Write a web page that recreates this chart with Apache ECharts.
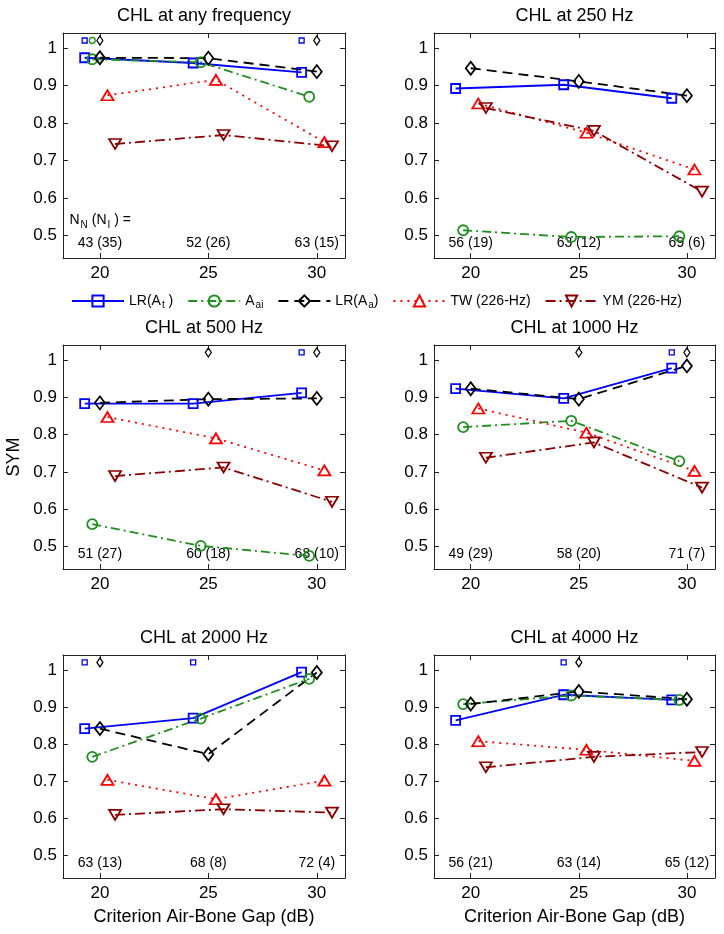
<!DOCTYPE html>
<html><head><meta charset="utf-8">
<script src="https://cdn.jsdelivr.net/npm/echarts@6/dist/echarts.min.js"></script>
<style>html,body{margin:0;padding:0;background:#fff}#c{width:724px;height:934px}</style>
</head><body><div id="c"></div>
<script>
// ---- data ----
const panelTitles = ['CHL at any frequency','CHL at 250 Hz','CHL at 500 Hz','CHL at 1000 Hz','CHL at 2000 Hz','CHL at 4000 Hz'];
const gaps = [20, 25, 30];
const yTicks = [0.5, 0.6, 0.7, 0.8, 0.9, 1];
const lrAt = [[0.974,0.960,0.935],[0.892,0.902,0.866],[0.883,0.883,0.912],[0.923,0.897,0.978],[0.842,0.870,0.994],[0.864,0.933,0.919]];
const aai  = [[0.970,0.962,0.870],[0.514,0.496,0.498],[0.560,0.502,0.475],[0.820,0.837,0.729],[0.766,0.869,0.976],[0.908,0.931,0.919]];
const lrAa = [[0.974,0.973,0.937],[0.946,0.911,0.873],[0.885,0.895,0.897],[0.923,0.895,0.984],[0.842,0.773,0.993],[0.908,0.942,0.921]];
const tw   = [[0.874,0.915,0.749],[0.852,0.774,0.676],[0.847,0.790,0.704],[0.870,0.805,0.703],[0.704,0.652,0.702],[0.808,0.785,0.755]];
const ym   = [[0.744,0.768,0.738],[0.840,0.779,0.617],[0.689,0.712,0.620],[0.738,0.779,0.658],[0.610,0.625,0.616],[0.738,0.766,0.779]];
// small markers drawn above the data (criterion values where they appear)
const flagAt  = [[20,30],[],[30],[30],[20,25],[25]];
const flagAai = [[20],[],[],[],[],[]];
const flagAa  = [[20,30],[],[25,30],[25,30],[20],[25]];
const FLAG_LEVEL = 1.02;
const nCounts = [['43 (35)','52 (26)','63 (15)'],['56 (19)','63 (12)','69 (6)'],['51 (27)','60 (18)','68 (10)'],['49 (29)','58 (20)','71 (7)'],['63 (13)','68 (8)','72 (4)'],['56 (21)','63 (14)','65 (12)']];

// ---- layout / style ----
const FONT = '"Liberation Sans", Arial, Helvetica, sans-serif';
const AX = '#222';
const grids = [
  {left:63, top:33, width:282, height:225},
  {left:434, top:33, width:281, height:225},
  {left:63, top:345, width:282, height:224},
  {left:434, top:345, width:281, height:224},
  {left:63, top:655, width:282, height:223},
  {left:434, top:655, width:281, height:223}
];
const XMIN = 18.3, XMAX = 31.3, YMIN = 0.44, YMAX = 1.04;
const N_Y = 0.48, HEAD_Y = 0.54, HEAD_X = 18.6;

const defs = [
  {name:'LR(At)', data:lrAt, color:'#0000ff', symbol:'rect', size:9, dash:'solid', rotate:0, dx:-0.7, flags:flagAt, fsize:5},
  {name:'Aai', data:aai, color:'#1f8f1f', symbol:'circle', size:10, dash:[9,4,2,4], rotate:0, dx:-0.35, flags:flagAai, fsize:6},
  {name:'LR(Aa)', data:lrAa, color:'#000000', symbol:'diamond', size:[10,13], dash:[10,6], rotate:0, dx:0, flags:flagAa, fsize:[6,9]},
  {name:'TW (226-Hz)', data:tw, color:'#ff0000', symbol:'triangle', size:[12,10], dash:[2,5], rotate:0, dx:0.35},
  {name:'YM (226-Hz)', data:ym, color:'#8b0000', symbol:'triangle', size:[12,10], dash:[10,4,2,4], rotate:180, dx:0.7}
];
const legendText = {
  'LR(At)': '{n|LR(A}{s|t}{n| )}',
  'Aai': '{n|A}{s|ai}',
  'LR(Aa)': '{n|LR(A}{s|a}{n|)}',
  'TW (226-Hz)': '{n|TW (226-Hz)}',
  'YM (226-Hz)': '{n|YM (226-Hz)}'
};
const rich = {
  n: {fontSize:14, fontFamily:FONT, color:'#000'},
  s: {fontSize:10, fontFamily:FONT, color:'#000', padding:[9,0,0,1]}
};

const xAxis = [], yAxis = [], series = [];
grids.forEach((g, i) => {
  const line = {show:true, onZero:false, lineStyle:{color:AX, width:1}};
  const isBottom = i >= 4;
  xAxis.push({gridIndex:i, type:'value', min:XMIN, max:XMAX, position:'bottom',
    axisLine:line, splitLine:{show:false},
    axisTick:{show:true, inside:true, length:5, customValues:gaps, lineStyle:{color:AX}},
    axisLabel:{show:true, customValues:gaps, color:'#000', fontSize:17, fontFamily:FONT, margin:7},
    name: isBottom ? 'Criterion Air-Bone Gap (dB)' : '', nameLocation:'middle', nameGap:30,
    nameTextStyle:{fontSize:18, fontFamily:FONT, color:'#000'}});
  xAxis.push({gridIndex:i, type:'value', min:XMIN, max:XMAX, position:'top',
    axisLine:line, splitLine:{show:false},
    axisTick:{show:true, inside:true, length:5, customValues:gaps, lineStyle:{color:AX}},
    axisLabel:{show:false}});
  yAxis.push({gridIndex:i, type:'value', min:YMIN, max:YMAX, position:'left',
    axisLine:line, splitLine:{show:false},
    axisTick:{show:true, inside:true, length:5, customValues:yTicks, lineStyle:{color:AX}},
    axisLabel:{show:true, customValues:yTicks, color:'#000', fontSize:17, fontFamily:FONT, margin:6,
      formatter: v => String(Math.round(v*10)/10)},
    name: i === 2 ? 'SYM' : '', nameLocation:'middle', nameGap:40,
    nameTextStyle:{fontSize:18, fontFamily:FONT, color:'#000'}});
  yAxis.push({gridIndex:i, type:'value', min:YMIN, max:YMAX, position:'right',
    axisLine:line, splitLine:{show:false},
    axisTick:{show:true, inside:true, length:5, customValues:yTicks, lineStyle:{color:AX}},
    axisLabel:{show:false}});

  defs.forEach(d => {
    series.push({
      type:'line', name:d.name, xAxisIndex:2*i, yAxisIndex:2*i,
      data: gaps.map((x, j) => [x + d.dx, d.data[i][j]]),
      symbol:d.symbol, symbolSize:d.size, symbolRotate:d.rotate, showSymbol:true,
      lineStyle:{color:d.color, width:1.8, type:d.dash},
      itemStyle:{color:'rgba(0,0,0,0)', borderColor:d.color, borderWidth:1.8, opacity:1},
      emphasis:{disabled:true}, silent:true
    });
    if (d.flags && d.flags[i].length) {
      series.push({
        type:'scatter', name:'_flag_' + d.name, xAxisIndex:2*i, yAxisIndex:2*i,
        data: d.flags[i].map(x => [x + d.dx, FLAG_LEVEL]),
        symbol:d.symbol, symbolSize:d.fsize,
        itemStyle:{color:'rgba(0,0,0,0)', borderColor:d.color, borderWidth:1.3, opacity:1},
        emphasis:{disabled:true}, silent:true
      });
    }
  });

  const ann = gaps.map((x, j) => ({value:[x, N_Y], name:nCounts[i][j]}));
  series.push({
    type:'scatter', name:'_n', xAxisIndex:2*i, yAxisIndex:2*i, data:ann,
    symbolSize:1, itemStyle:{color:'rgba(0,0,0,0)', opacity:1}, silent:true,
    label:{show:true, position:'inside', formatter:'{b}', color:'#000', fontSize:14, fontFamily:FONT}
  });
  if (i === 0) {
    series.push({
      type:'scatter', name:'_head', xAxisIndex:0, yAxisIndex:0,
      data:[{value:[HEAD_X, HEAD_Y], name:'head'}],
      symbolSize:1, itemStyle:{color:'rgba(0,0,0,0)', opacity:1}, silent:true,
      label:{show:true, position:'inside', align:'left',
        formatter:'{n|N}{s|N}{n| (N}{s|I}{n| ) =}', rich:rich}
    });
  }
});

const option = {
  animation:false,
  backgroundColor:'#fff',
  title: panelTitles.map((t, i) => ({
    text:t, left: grids[i].left + grids[i].width/2, top: grids[i].top - 26,
    textAlign:'center', padding:0,
    textStyle:{fontSize:18, fontWeight:'normal', color:'#000', fontFamily:FONT}
  })),
  legend: {
    data: defs.map(d => d.name), top:294, left:71, orient:'horizontal',
    itemWidth:52, itemHeight:14, itemGap:14, padding:0, selectedMode:false,
    formatter: name => legendText[name],
    textStyle:{fontSize:14, fontFamily:FONT, color:'#000', rich:rich}
  },
  grid: grids,
  xAxis, yAxis, series
};
const chart = echarts.init(document.getElementById('c'), null, {renderer:'canvas'});
chart.setOption(option);
</script></body></html>
